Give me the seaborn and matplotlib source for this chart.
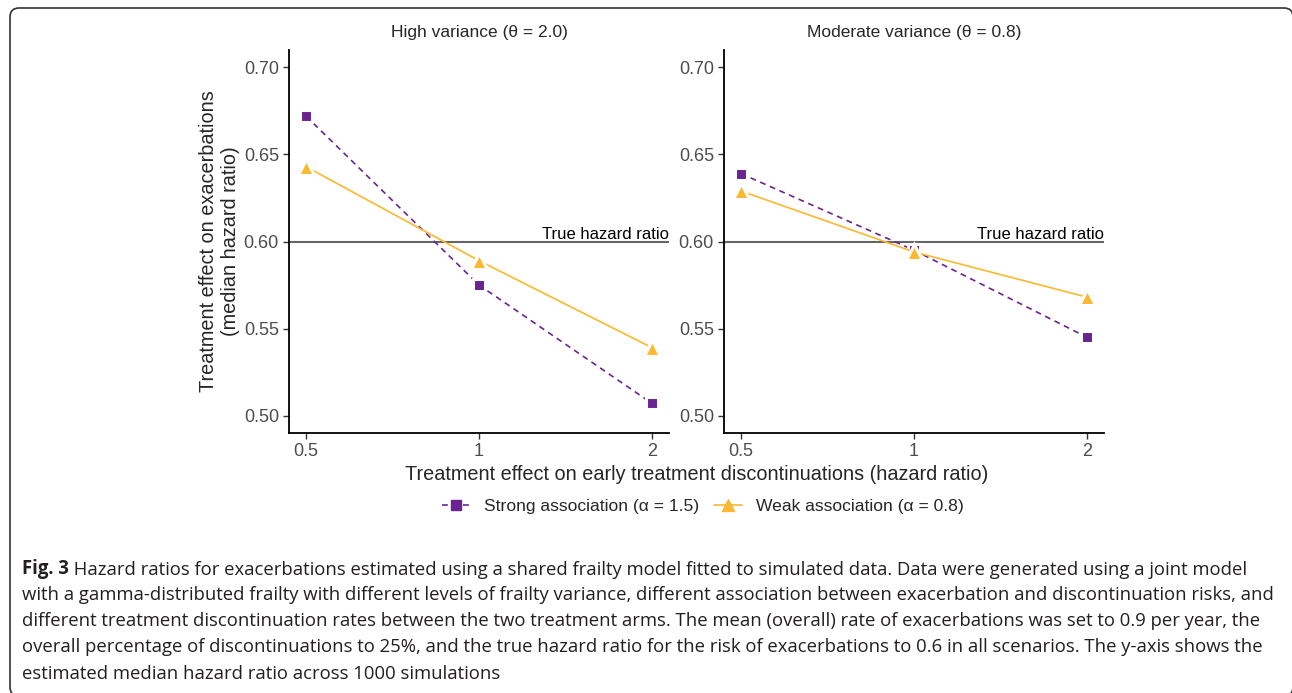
import pandas as pd
import matplotlib.pyplot as plt
import seaborn as sns
from matplotlib.lines import Line2D
from matplotlib.patches import FancyBboxPatch
from matplotlib.transforms import IdentityTransform, blended_transform_factory

sns.set_theme(style="ticks")
plt.rcParams["font.family"] = ["Liberation Sans", "DejaVu Sans"]

# values
discont_hr = [0.5, 1, 2]
high_strong = [0.672, 0.575, 0.507]
high_weak = [0.643, 0.589, 0.539]
mod_strong = [0.639, 0.595, 0.545]
mod_weak = [0.629, 0.594, 0.568]
panel_titles = ["High variance (θ = 2.0)", "Moderate variance (θ = 0.8)"]
series_labels = ["Strong association (α = 1.5)", "Weak association (α = 0.8)"]
true_hr = 0.6
y_ticks = [0.50, 0.55, 0.60, 0.65, 0.70]
x_ticks = [0.5, 1, 2]
x_ticklabels = ["0.5", "1", "2"]

caption_bold = "Fig. 3"
caption_lines = [
    " Hazard ratios for exacerbations estimated using a shared frailty model fitted to simulated data. Data were generated using a joint model",
    "with a gamma-distributed frailty with different levels of frailty variance, different association between exacerbation and discontinuation risks, and",
    "different treatment discontinuation rates between the two treatment arms. The mean (overall) rate of exacerbations was set to 0.9 per year, the",
    "overall percentage of discontinuations to 25%, and the true hazard ratio for the risk of exacerbations to 0.6 in all scenarios. The y-axis shows the",
    "estimated median hazard ratio across 1000 simulations",
]

purple = "#6a2491"
yellow = "#fbb830"
palette = {series_labels[0]: purple, series_labels[1]: yellow}
markers = {series_labels[0]: "s", series_labels[1]: "^"}
dashes = {series_labels[0]: (3.5, 2.8), series_labels[1]: ""}

# long table: one row per point
rows = []
for title, strong, weak in [(panel_titles[0], high_strong, high_weak),
                            (panel_titles[1], mod_strong, mod_weak)]:
    for x, s, w in zip(discont_hr, strong, weak):
        rows.append({"panel": title, "hr": x, "assoc": series_labels[0], "value": s})
        rows.append({"panel": title, "hr": x, "assoc": series_labels[1], "value": w})
df = pd.DataFrame(rows)

W, H = 1292, 693
fig = plt.figure(figsize=(W / 100, H / 100), dpi=100)
ax_l = fig.add_axes([288.7 / W, 1 - 433 / H, 380.6 / W, 383 / H])
ax_r = fig.add_axes([723.7 / W, 1 - 433 / H, 380.6 / W, 383 / H])

for ax, title in zip([ax_l, ax_r], panel_titles):
    ax.axhline(true_hr, color="#666666", lw=1.5, zorder=1)
    sns.lineplot(
        data=df[df["panel"] == title], x="hr", y="value",
        hue="assoc", style="assoc", hue_order=series_labels, style_order=series_labels,
        palette=palette, markers=markers, dashes=dashes,
        linewidth=1.2, markeredgecolor="white", markeredgewidth=2.2,
        legend=False, ax=ax, zorder=3,
    )
    for ln in ax.lines:
        if ln.get_marker() == "s":
            ln.set_markersize(8.5)
        elif ln.get_marker() == "^":
            ln.set_markersize(11)

    ax.set_xscale("log")
    ax.set_xlim(0.5 / 4 ** 0.05, 2 * 4 ** 0.05)
    ax.set_ylim(0.49, 0.71)
    ax.set_xticks(x_ticks)
    ax.set_xticklabels(x_ticklabels)
    ax.minorticks_off()
    ax.set_yticks(y_ticks)
    ax.set_yticklabels([f"{v:.2f}" for v in y_ticks])
    ax.tick_params(labelsize=13, labelcolor="#4d4d4d", color="#333333",
                   length=4, width=1, pad=3)
    ax.set_xlabel("")
    ax.set_ylabel("")
    for side in ["left", "bottom"]:
        ax.spines[side].set_linewidth(1.3)
        ax.spines[side].set_color("black")
    sns.despine(ax=ax)
    ax.set_title(title, fontsize=12.5, pad=9)

    trans = blended_transform_factory(ax.transAxes, ax.transData)
    ax.text(1.0, true_hr + 0.0016, "True hazard ratio", transform=trans,
            ha="right", va="baseline", fontsize=12, color="black")

ax_l.set_ylabel("Treatment effect on exacerbations\n(median hazard ratio)",
                fontsize=14.3, linespacing=1.15, labelpad=3)
fig.text(696.5 / W, 1 - 474 / H,
         "Treatment effect on early treatment discontinuations (hazard ratio)",
         ha="center", va="center", fontsize=14.3)

handles = [
    Line2D([], [], color=purple, lw=1.2, ls=(0, (3.5, 2.8)), marker="s",
           markersize=6.5, markeredgecolor=purple),
    Line2D([], [], color=yellow, lw=1.2, marker="^",
           markersize=8, markeredgecolor=yellow),
]
fig.legend(handles, series_labels, loc="center", ncol=2, frameon=False,
           bbox_to_anchor=(703 / W, 1 - 506 / H), fontsize=12.6,
           handlelength=1.6, handletextpad=0.8, columnspacing=0.8)

# caption below the chart
cap = fig.add_axes([0, 0, 1, 1])
cap.set_axis_off()
cap.set_xlim(0, W)
cap.set_ylim(H, 0)
cap_font = ["Open Sans", "DejaVu Sans"]
cap_color = "#231f20"
cap_size = 13.35
line_y = [574, 600, 626, 652, 679]
t0 = cap.text(22, line_y[0], caption_bold, fontsize=cap_size, fontweight="bold",
              family=cap_font, color=cap_color, va="baseline", ha="left")
cap.annotate(caption_lines[0], xy=(1, 0), xycoords=t0, xytext=(0, 0),
             textcoords="offset points", fontsize=cap_size, family=cap_font,
             color=cap_color, va="bottom", ha="left")
for y, line in zip(line_y[1:], caption_lines[1:]):
    cap.text(22, y, line, fontsize=cap_size, family=cap_font, color=cap_color,
             va="baseline", ha="left")

frame = FancyBboxPatch((10, -3), 1283, H - 8 + 3, boxstyle="round,pad=0,rounding_size=9",
                       transform=IdentityTransform(), fill=False,
                       edgecolor="#333333", lw=1.2)
fig.add_artist(frame)

fig.savefig("out.png", dpi=100)
